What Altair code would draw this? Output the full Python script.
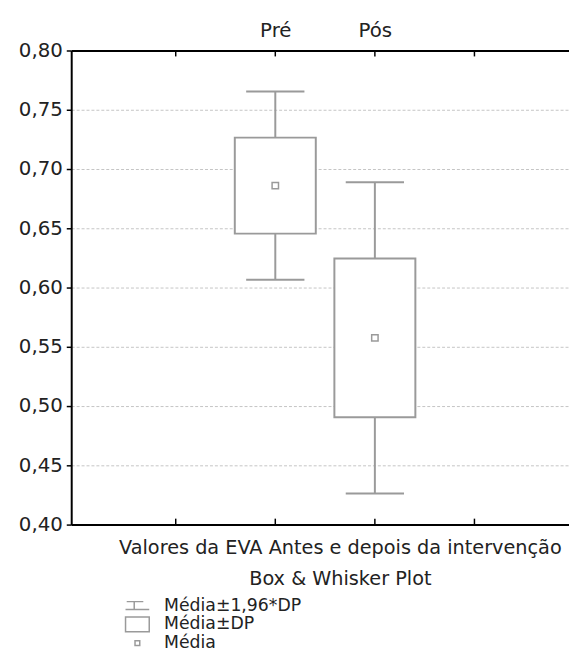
import json
import altair as alt
import pandas as pd

# ---- data ----
categorias = ["Pré", "Pós"]
media = [0.686, 0.5575]
dp = [0.0405, 0.067]
y_ticks = [0.40, 0.45, 0.50, 0.55, 0.60, 0.65, 0.70, 0.75, 0.80]
x_ticks = [1, 2, 3, 4]
legenda = ["Média±1,96*DP", "Média±DP", "Média"]
titulo_x = ["Valores da EVA Antes e depois da intervenção", "Box & Whisker Plot"]

df = pd.DataFrame({"cat": categorias, "media": media, "dp": dp})
df_ticks = pd.DataFrame({"t": x_ticks})
df_leg = pd.DataFrame({"item": legenda})

FONT = "DejaVu Sans"
TXT = "#222222"
GRAY = "#9a9a9a"
W, H = 504, 480

cats_js = json.dumps(categorias, ensure_ascii=False)

xscale = alt.Scale(domain=[0, 4.9], nice=False, zero=False)
yscale = alt.Scale(domain=[0.40, 0.80], nice=False, zero=False)


def yaxis():
    return alt.Axis(
        values=y_ticks,
        labelExpr="replace(format(datum.value, '.2f'), '.', ',')",
        grid=True, gridColor="#c4c4c4", gridDash=[3, 2], gridWidth=1,
        tickSize=5, tickColor="black", tickWidth=1.5,
        domainColor="black", domainWidth=2,
        labelFont=FONT, labelFontSize=20, labelColor=TXT, labelPadding=4,
        title=None,
    )


base = alt.Chart(df).transform_calculate(
    pos=f"indexof({cats_js}, datum.cat) + 2",
    lo1="datum.media - 1.96 * datum.dp",
    hi1="datum.media + 1.96 * datum.dp",
    lo="datum.media - datum.dp",
    hi="datum.media + datum.dp",
)

xbottom = alt.Axis(
    title=titulo_x, labels=False, ticks=False,
    domainColor="black", domainWidth=2,
    titleFont=FONT, titleFontSize=19.5, titleColor=TXT, titleFontWeight="normal",
    titleAlign="center", titleBaseline="top", titleX=272, titleY=14,
    titleLineHeight=32, grid=False,
)

whisker = base.mark_rule(color=GRAY, strokeWidth=2).encode(
    x=alt.X("pos:Q", scale=xscale, axis=xbottom),
    y=alt.Y("lo1:Q", scale=yscale, axis=yaxis()),
    y2="hi1:Q",
)

caps = base.transform_fold(["lo1", "hi1"], as_=["k", "v"]).mark_tick(
    orient="horizontal", size=59, thickness=2, color=GRAY, opacity=1
).encode(
    x=alt.X("pos:Q", scale=xscale, axis=None),
    y=alt.Y("v:Q", scale=yscale, axis=yaxis()),
)

box = base.mark_bar(size=82, fill="white", stroke=GRAY, strokeWidth=2).encode(
    x=alt.X("pos:Q", scale=xscale, axis=None),
    y=alt.Y("lo:Q", scale=yscale, axis=yaxis()),
    y2="hi:Q",
)

xtop = alt.Axis(
    orient="top", values=[2, 3],
    labelExpr=f"{cats_js}[datum.value - 2]",
    ticks=False, domainColor="black", domainWidth=2,
    labelFont=FONT, labelFontSize=20, labelColor=TXT,
    labelBaseline="alphabetic", labelPadding=14,
    title=None, grid=False,
)

mean = base.mark_point(
    shape="square", size=42, filled=True, fill="white", stroke=GRAY,
    strokeWidth=1.5, opacity=1
).encode(
    x=alt.X("pos:Q", scale=xscale, axis=xtop),
    y=alt.Y("media:Q", scale=yscale, axis=yaxis()),
)

ticks_top = alt.Chart(df_ticks).mark_rule(color="black", strokeWidth=1.5).encode(
    x=alt.X("t:Q", scale=xscale, axis=None),
    y=alt.value(0), y2=alt.value(6),
)
ticks_bot = alt.Chart(df_ticks).mark_rule(color="black", strokeWidth=1.5).encode(
    x=alt.X("t:Q", scale=xscale, axis=None),
    y=alt.value(H - 6), y2=alt.value(H),
)

main = alt.layer(
    whisker, caps, box, mean, ticks_top, ticks_bot
).resolve_axis(x="independent")

# ---- legend (below the plot) ----
paths = [
    "M-1.35,-0.5H0.75M-0.4,-0.5V0.5M-1.5,0.5H1.5",
    "M-1.5,-0.94H1.5V0.94H-1.5Z",
    "M-0.3,-0.3H0.3V0.3H-0.3Z",
]
leg_y = alt.Y(
    "item:N",
    scale=alt.Scale(type="point", domain=legenda, range=[562, 600], padding=0),
    axis=None,
)
leg_sym = alt.Chart(df_leg).mark_point(
    filled=False, color=GRAY, opacity=1, strokeWidth=1.5, size=256
).encode(
    x=alt.value(67),
    y=leg_y,
    shape=alt.Shape("item:N", scale=alt.Scale(domain=legenda, range=paths), legend=None),
)
leg_txt = alt.Chart(df_leg).mark_text(
    align="left", baseline="middle", font=FONT, fontSize=17.5, color=TXT
).encode(
    x=alt.value(94),
    y=leg_y,
    text="item:N",
)
legend = alt.layer(leg_sym, leg_txt)

chart = alt.layer(main, legend).resolve_scale(y="independent").properties(
    width=W, height=H,
    autosize=alt.AutoSizeParams(type="none"),
    padding={"left": 64, "top": 39, "right": 0, "bottom": 127},
).configure_view(stroke=None).configure(background="white")

chart.save("out.html", embed_options={"renderer": "svg", "actions": False})
